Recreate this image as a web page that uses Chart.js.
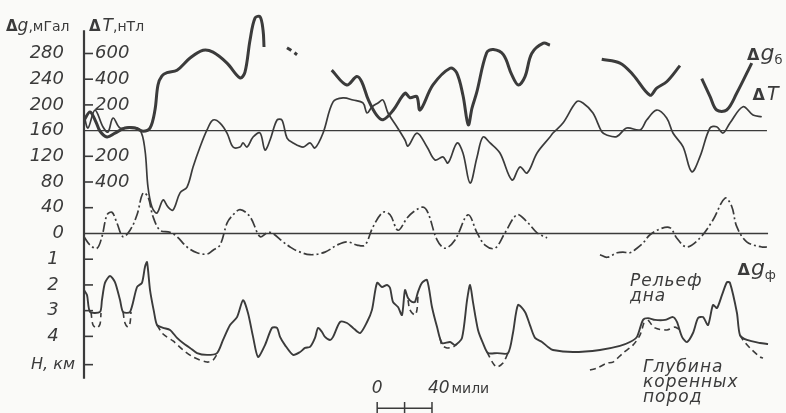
<!DOCTYPE html>
<html>
<head>
<meta charset="utf-8">
<script src="https://cdn.jsdelivr.net/npm/chart.js@4/dist/chart.umd.min.js"></script>
<style>
  html, body { margin: 0; padding: 0; background: #fafaf8; }
  canvas { display: block; }
</style>
</head>
<body>
<canvas id="profile" width="786" height="413"></canvas>
<script>
// Profile across the ridge. Distance along the profile in miles.
// null = break in the record.

// Bouguer anomaly, mGal
const gbMiles = [0, 4.4, 8.8, 11.7, 16.8, 22.6, 29.9, 37.2, 43.1, 48.2,
  51.8, 54, 56.9, 60.6, 67.9, 77.4, 86.9, 94.2, 104.4, 113.9,
  117.5, 121.2, 124.8, 128.5, 130.7, 131.4, 150,
  180.8, 191.8, 199.1, 202.7, 207.5, 213.6, 218.5, 225.8, 234.3, 238,
  242.9, 245.3, 254.7, 267.2, 272, 276.6, 280.5, 283.2, 286.6, 293.9,
  298.8, 306.1, 312.2, 317, 321.9, 326.8, 335.3, 340.1, 360,
  377.9, 391.2, 400.7, 413.1, 418, 425.3, 435, 442,
  450.9, 457, 461.8, 469.1, 476.4, 487.4];
const gbMgal = [176, 189, 173, 159, 150, 156, 164, 164, 159, 164,
  192, 231, 245, 250, 254, 273, 285, 282, 265, 242,
  251, 301, 335, 337, 316, 290, null,
  254, 231, 244, 236, 208, 184, 177, 192, 218, 211,
  213, 192, 231, 257, 250, 215, 169, 195, 219, 281,
  286, 278, 247, 231, 244, 280, 296, 293, null,
  271, 265, 247, 215, 226, 236, 261, null,
  241, 213, 192, 192, 218, 265];

// short doubtful piece of the Bouguer anomaly (dashed)
const gbDashMiles = [148.2, 151.8, 155.5];
const gbDashMgal = [289, 284, 278];

// magnetic anomaly, nT
const dtMiles = [0, 2.9, 8, 13.9, 17.5, 21.2, 26.3, 33.6, 40.9, 44.5,
  46.7, 49.6, 53.3, 57.7, 61.3, 65, 70.1, 75.2, 79.6, 84.7,
  89.8, 94.2, 99.3, 104.4, 108.8, 113.9, 116.1, 119, 123.4, 128.5,
  132.1, 135.8, 140.9, 144.5, 148.2, 152.6, 159.9, 165, 168.6, 174.5,
  181.8, 189.1, 196.4, 203.6, 206.6, 210.2, 214.6, 218.2, 221.9, 228.5,
  234.3, 236.5, 243.1, 250.4, 256.2, 262, 265.7, 272.3, 276.6, 281.8,
  286.9, 291.2, 296.4, 303.6, 312.4, 318.2, 323.4, 330.7, 340.1, 342.3,
  349.6, 359.6, 364.2, 371.5, 377.9, 381.5, 388.8, 396.1, 405.8, 410.7,
  418, 425.3, 429.9, 437.2, 443.6, 449.6, 456.9, 461.8, 466.4, 471.5,
  481, 488.3, 494.7];
const dtNt = [121, 20, 160, 28, -11, 98, 20, 28, 5, -151,
  -439, -594, -641, -540, -594, -618, -485, -439, -283, -128,
  5, 82, 59, -19, -128, -128, -96, -128, -50, -19,
  -151, -73, 82, 82, -58, -96, -128, -96, -135, -19,
  223, 254, 238, 215, 137, 184, 215, 238, 137, 28,
  -73, -120, -19, -128, -229, -205, -252, -96, -174, -408,
  -205, -50, -96, -174, -384, -283, -330, -174, -50, -19,
  59, 225, 215, 137, -9, -34, -47, 20, 5, 82,
  160, 98, -19, -125, -320, -203, 20, 30, -19, 59,
  186, 121, 108];

// free-air anomaly, mGal
const gfMiles = [0, 4.4, 9.5, 13.1, 16.8, 20.4, 24.1, 28.5, 33.6, 38.7,
  43.1, 46.7, 50.4, 55.5, 62.8, 67.9, 75.2, 82.5, 89.8, 94.2,
  99.3, 104.4, 108, 113.9, 121.2, 128.5, 133.6, 137.2, 145.3, 150.4,
  155.5, 165, 175.9, 184.7, 192, 199.3, 205.1, 210.9, 218.2, 223.4,
  229.2, 235.8, 240.1, 247.4, 251.1, 257.7, 263.5, 270.8, 280.3, 286.9,
  292.7, 300, 307.3, 316.1, 323.4, 330.7, 338, 357, 376.6, 381.8,
  389.1, 393.4, 398.5, 403.6, 408, 413.1, 420.4, 427.7, 432.6, 439.9,
  449.6, 459.1, 467.9, 472.8, 476.4, 483.7, 494.7, 498.5];
const gfMgal = [-5, -18, -23, -5, 29, 33, 16, -5, 5, 29,
  63, 57, 26, 5, 2, -5, -21, -30, -32, -26,
  -18, 16, 27, 37, 26, -5, 1, 1, -13, -21,
  -27, -33, -29, -18, -13, -18, -18, 10, 33, 29,
  5, 24, 33, 41, 32, -10, -23, -10, 29, 1,
  -18, -23, 1, 29, 18, 1, -7, null, -33, -37,
  -30, -29, -30, -23, -15, -2, 7, 9, -7, -21,
  -7, 21, 55, 42, 11, -13, -21, -21];

// sea-floor relief, km
const reliefMiles = [0, 2.2, 4.4, 11.7, 13.1, 15.3, 19, 22.6, 26.3, 28.5,
  33.6, 38.7, 42.3, 44.5, 46, 48.2, 51.1, 53.3, 57.7, 62.8,
  67.9, 72.3, 77.4, 82.5, 89.8, 97.1, 101.5, 106.6, 111.7, 116.1,
  119.7, 123.4, 127, 132.1, 137.2, 140.9, 143.1, 146.7, 152.6, 157.7,
  161.3, 165, 168.6, 170.8, 173.7, 175.9, 179.6, 181.8, 186.9, 192,
  196.4, 201.5, 206.6, 210.2, 213.9, 217.5, 221.2, 223.4, 225.5, 229.2,
  232.1, 234.3, 236.5, 239.4, 241.6, 243.8, 246.7, 250.4, 254, 257.7,
  261.3, 267.2, 270.8, 275.9, 279.6, 281.8, 283.9, 287.6, 291.2, 294.9,
  301.5, 309.5, 313.1, 316.8, 321.9, 325.5, 329.2, 334.3, 338.7, 342.3,
  356.9, 376.6, 391.2, 398.5, 403.6, 408, 411.7, 416.8, 424.1, 429.9,
  432.8, 436.5, 440.1, 444.5, 448.2, 451.8, 455.5, 459.1, 462, 465.7,
  469.3, 471.5, 476.6, 478.8, 483.9, 493.4, 499.3];
const reliefKm = [2.20, 2.39, 3.05, 3.05, 2.59, 1.92, 1.65, 1.89, 2.59, 3.05,
  3.05, 2.08, 1.92, 1.30, 1.11, 2.20, 3.05, 3.56, 3.67, 3.75,
  4.06, 4.26, 4.45, 4.65, 4.72, 4.65, 4.14, 3.56, 3.25, 2.59,
  3.09, 4.02, 4.80, 4.34, 3.67, 3.67, 4.02, 4.34, 4.72, 4.61,
  4.45, 4.41, 4.06, 3.67, 3.83, 4.02, 4.14, 4.02, 3.44, 3.48,
  3.67, 3.87, 3.44, 2.97, 1.92, 2.08, 2.00, 2.12, 2.66, 2.86,
  3.17, 2.20, 2.51, 2.66, 2.66, 2.27, 1.92, 1.81, 2.86, 3.64,
  4.26, 4.22, 4.34, 4.06, 2.59, 2.00, 2.66, 3.75, 4.26, 4.65,
  4.65, 4.65, 3.87, 2.78, 3.05, 3.56, 4.06, 4.22, 4.41, 4.53,
  4.61, 4.53, 4.37, 4.22, 4.02, 3.36, 3.29, 3.36, 3.36, 3.25,
  3.44, 4.02, 4.22, 3.87, 3.29, 3.25, 3.56, 2.78, 2.90, 2.39,
  1.89, 1.92, 3.09, 3.95, 4.14, 4.26, 4.30];

// depth of bedrock, km (only where it leaves the sea floor)
const bedrockMiles = [5.1, 6.6, 9.5, 11.7, 12.4, 20,
  28.5, 29.9, 32.1, 33.6, 34.3, 45,
  53.3, 57.7, 65, 72.3, 79.6, 89.8, 94.2, 97.1, 150,
  236.5, 237.9, 241.6, 243.1, 243.8, 250,
  259.9, 261.3, 265, 269.3, 272.3, 283,
  294.2, 298.5, 301.5, 305.8, 309.5, 340,
  369.3, 374.5, 381.8, 386.1, 393.4, 400.7, 405.8, 408.8, 410,
  411.7, 416.8, 425.5, 431.4, 435, 460,
  478.8, 481, 486.1, 493.4, 495.6];
const bedrockKm = [3.05, 3.56, 3.67, 3.52, 3.09, null,
  3.05, 3.48, 3.64, 3.48, 3.05, null,
  3.56, 3.91, 4.18, 4.53, 4.80, 5.00, 4.92, 4.69, null,
  2.59, 2.97, 3.17, 2.94, 2.39, null,
  4.06, 4.34, 4.45, 4.41, 4.30, null,
  4.61, 5.04, 5.19, 5.04, 4.65, null,
  5.31, 5.23, 5.04, 5.00, 4.65, 4.34, 3.95, 3.44, null,
  3.36, 3.67, 3.75, 3.64, 3.75, null,
  3.95, 4.14, 4.45, 4.80, 4.84];

// zero lines of the two anomaly groups (mGal) and where they stop
const refLevelsMgal = [160, 0];
const refEndMiles = [498.5, 499.3];

// axis ticks
const gTickValues = [280, 240, 200, 160, 120, 80, 40, 0];
const gTickLabels = ['280', '240', '200', '160', '120', '80', '40', '0'];
const tTickValues = [600, 400, 200, -200, -400, -600];
const tTickLabels = ['600', '400', '200', '200', '400', ''];
const hTickValues = [1, 2, 3, 4, 5.1];
const hTickLabels = ['1', '2', '3', '4', 'H, км'];

// scale bar, miles
const barStartMile = 214;
const barTicksMiles = [0, 20, 40];


const INK = '#3b3b3b';
const PAPER = '#fafaf8';

function points(xs, ys) {
    let out = [];
    for (let i = 0; i < xs.length; i++) {
        out.push({ x: xs[i], y: ys[i] });
    }
    return out;
}

function richText(c, parts, x, y) {
    for (let p of parts) {
        c.font = p.font;
        c.fillText(p.text, x, y + (p.dy || 0));
        x += c.measureText(p.text).width + (p.gap || 0);
    }
}

const profileAxes = {
    id: 'profileAxes',

    beforeDraw(chart) {
        let c = chart.ctx;
        c.save();
        c.fillStyle = PAPER;
        c.fillRect(0, 0, chart.width, chart.height);
        c.restore();
    },

    afterDatasetsDraw(chart) {
        let c = chart.ctx;
        let s = chart.scales;
        let left = chart.chartArea.left;

        c.save();
        c.strokeStyle = INK;
        c.fillStyle = INK;
        c.lineCap = 'butt';

        // main vertical axis
        c.lineWidth = 2.2;
        c.beginPath();
        c.moveTo(left, s.g.getPixelForValue(316));
        c.lineTo(left, s.h.getPixelForValue(5.65));
        c.stroke();

        // ticks to the right of the axis
        c.lineWidth = 1.6;
        tTickValues.forEach(function(v) {
            let y = s.t.getPixelForValue(v);
            c.beginPath(); c.moveTo(left, y); c.lineTo(left + 9, y); c.stroke();
        });
        hTickValues.forEach(function(v) {
            let y = s.h.getPixelForValue(v);
            c.beginPath(); c.moveTo(left, y); c.lineTo(left + 9, y); c.stroke();
        });

        // tick labels
        c.textBaseline = 'middle';
        c.font = 'italic 18px "DejaVu Sans"';
        c.textAlign = 'right';
        gTickValues.forEach(function(v, i) {
            c.fillText(gTickLabels[i], left - 20, s.g.getPixelForValue(v));
        });
        c.textAlign = 'left';
        tTickValues.forEach(function(v, i) {
            c.fillText(tTickLabels[i], left + 11, s.t.getPixelForValue(v));
        });
        c.textAlign = 'center';
        hTickValues.forEach(function(v, i) {
            let lab = hTickLabels[i];
            c.font = lab.length > 1 ? 'italic 16px "DejaVu Sans"' : 'italic 18px "DejaVu Sans"';
            c.fillText(lab, left - 31, s.h.getPixelForValue(v));
        });

        // axis titles
        c.textAlign = 'left';
        c.textBaseline = 'alphabetic';
        richText(c, [
            { text: 'Δ', font: 'bold 15px "DejaVu Sans"' },
            { text: 'g', font: 'italic 17px "DejaVu Sans"' },
            { text: ',мГал', font: '14px "DejaVu Sans"' }
        ], 6, 31);
        richText(c, [
            { text: 'Δ', font: 'bold 15px "DejaVu Sans"', gap: 2 },
            { text: 'T', font: 'italic 17px "DejaVu Sans"' },
            { text: ',нТл', font: '14px "DejaVu Sans"' }
        ], 89, 31);

        // curve names
        let xs = s.x;
        richText(c, [
            { text: 'Δ', font: 'bold 16px "DejaVu Sans"', gap: 1 },
            { text: 'g', font: 'italic 22px "DejaVu Sans"' },
            { text: 'б', font: '13px "DejaVu Sans"', dy: 4 }
        ], xs.getPixelForValue(484), s.g.getPixelForValue(270));
        richText(c, [
            { text: 'Δ', font: 'bold 16px "DejaVu Sans"', gap: 2 },
            { text: 'T', font: 'italic 19px "DejaVu Sans"' }
        ], xs.getPixelForValue(488), s.t.getPixelForValue(235));
        richText(c, [
            { text: 'Δ', font: 'bold 16px "DejaVu Sans"', gap: 1 },
            { text: 'g', font: 'italic 22px "DejaVu Sans"' },
            { text: 'ф', font: '13px "DejaVu Sans"', dy: 4 }
        ], xs.getPixelForValue(477), s.h.getPixelForValue(1.6));

        c.font = 'italic 17px "DejaVu Sans"';
        c.letterSpacing = '1px';
        let rx = xs.getPixelForValue(398.5);
        c.fillText('Рельеф', rx, s.h.getPixelForValue(2.05));
        c.fillText('дна', rx, s.h.getPixelForValue(2.63));
        let dx = xs.getPixelForValue(408);
        c.fillText('Глубина', dx, s.h.getPixelForValue(5.4));
        c.fillText('коренных', dx, s.h.getPixelForValue(5.98));
        c.fillText('пород', dx, s.h.getPixelForValue(6.55));
        c.letterSpacing = '0px';

        // scale bar
        let yTop = s.h.getPixelForValue(6.55);
        let yBar = s.h.getPixelForValue(6.8);
        let yBot = s.h.getPixelForValue(7.1);
        c.lineWidth = 1.5;
        c.beginPath();
        c.moveTo(xs.getPixelForValue(barStartMile), yBar);
        c.lineTo(xs.getPixelForValue(barStartMile + 40), yBar);
        barTicksMiles.forEach(function(m) {
            let x = xs.getPixelForValue(barStartMile + m);
            c.moveTo(x, yTop);
            c.lineTo(x, yBot);
        });
        c.stroke();
        let labY = s.h.getPixelForValue(6.2);
        c.textAlign = 'center';
        c.font = 'italic 17px "DejaVu Sans"';
        c.fillText('0', xs.getPixelForValue(barStartMile), labY);
        c.textAlign = 'left';
        richText(c, [
            { text: '40', font: 'italic 17px "DejaVu Sans"', gap: 2 },
            { text: 'мили', font: '14px "DejaVu Sans"' }
        ], xs.getPixelForValue(barStartMile + 37), labY);

        c.restore();
    }
};

let refSets = refLevelsMgal.map(function(level, i) {
    return {
        data: points([0, refEndMiles[i]], [level, level]),
        yAxisID: 'g',
        borderColor: INK,
        borderWidth: 1.4,
        tension: 0
    };
});

let ctx = document.getElementById('profile').getContext('2d');

let profileChart = new Chart(ctx, {
    type: 'line',
    data: {
        datasets: refSets.concat([
            {
                label: 'Δg б',
                data: points(gbMiles, gbMgal),
                yAxisID: 'g',
                borderColor: INK,
                borderWidth: 3,
                tension: 0.35
            },
            {
                label: 'Δg б (dashed)',
                data: points(gbDashMiles, gbDashMgal),
                yAxisID: 'g',
                borderColor: INK,
                borderWidth: 3,
                borderDash: [5, 4],
                tension: 0.3
            },
            {
                label: 'ΔT',
                data: points(dtMiles, dtNt),
                yAxisID: 't',
                borderColor: INK,
                borderWidth: 1.7,
                tension: 0.35
            },
            {
                label: 'Δg ф',
                data: points(gfMiles, gfMgal),
                yAxisID: 'g',
                borderColor: INK,
                borderWidth: 1.7,
                borderDash: [10, 3, 2, 3],
                tension: 0.35
            },
            {
                label: 'Рельеф дна',
                data: points(reliefMiles, reliefKm),
                yAxisID: 'h',
                borderColor: INK,
                borderWidth: 1.9,
                tension: 0.25
            },
            {
                label: 'Глубина коренных пород',
                data: points(bedrockMiles, bedrockKm),
                yAxisID: 'h',
                borderColor: INK,
                borderWidth: 1.6,
                borderDash: [6, 4],
                tension: 0.3
            }
        ])
    },
    options: {
        responsive: false,
        animation: false,
        layout: { padding: { left: 84, right: 0, top: 0, bottom: 0 } },
        elements: { point: { radius: 0 } },
        plugins: {
            legend: { display: false },
            tooltip: { enabled: false }
        },
        scales: {
            // 1.37 px per mile
            x: { type: 'linear', min: 0, max: 512.4, display: false },
            // 0 mGal at 233.5 px, 0.643 px per mGal
            g: { type: 'linear', min: -279.2, max: 363.1, display: false },
            // 0 nT on the 160 mGal line, 0.1285 px per nT
            t: { type: 'linear', min: -2197.7, max: 1016.3, display: false },
            // depth downwards, 25.72 px per km
            h: { type: 'linear', reverse: true, min: -9.08, max: 6.98, display: false }
        }
    },
    plugins: [profileAxes]
});
</script>
</body>
</html>
